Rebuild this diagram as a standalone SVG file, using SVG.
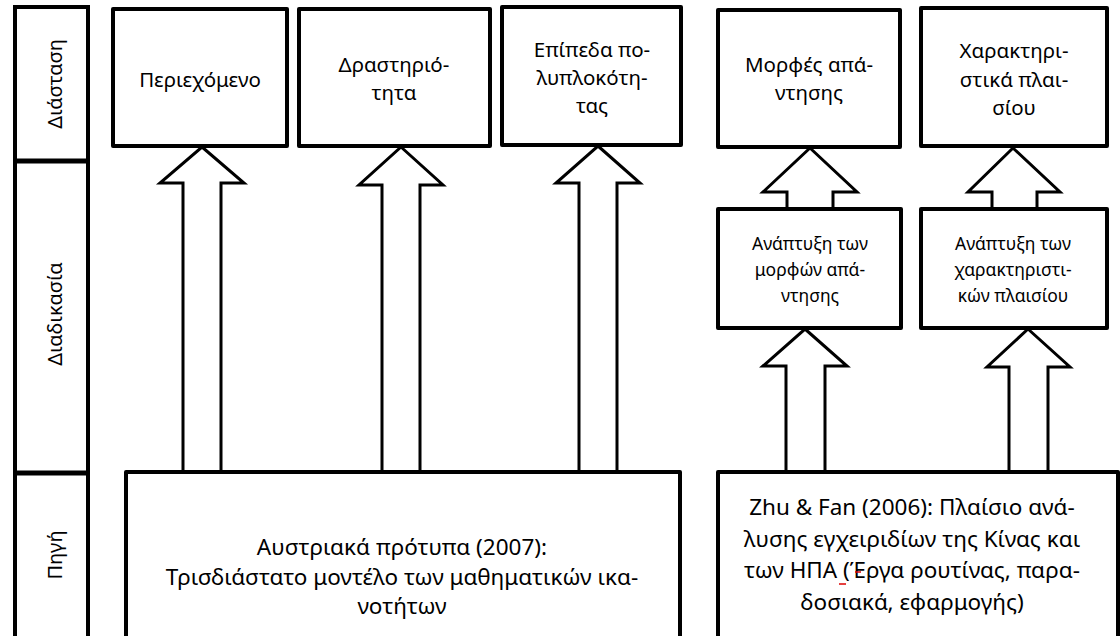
<svg xmlns="http://www.w3.org/2000/svg" width="1120" height="636" viewBox="0 0 1120 636">
<style>
.box{fill:#fff;stroke:#000;stroke-width:4;stroke-linejoin:round}
.arr{fill:#fff;stroke:#000;stroke-width:3;stroke-linejoin:miter}
.t{font-family:"Noto Sans","Open Sans",sans-serif;font-size:20.5px;fill:#000;text-anchor:middle}
.ts{font-family:"Noto Sans","Open Sans",sans-serif;font-size:17.5px;fill:#000;text-anchor:middle}
.tb{font-family:"Noto Sans","Open Sans",sans-serif;font-size:22.5px;fill:#000;text-anchor:middle}
.lab{font-family:"Noto Sans","Open Sans",sans-serif;font-size:20px;fill:#000;text-anchor:middle}
</style>
<rect width="1120" height="636" fill="#fff"/>
<g id="labels">
<rect x="15" y="7" width="73" height="645" fill="#fff" stroke="#000" stroke-width="4"/>
<line x1="15" y1="161" x2="88" y2="161" stroke="#000" stroke-width="5"/>
<line x1="15" y1="473" x2="88" y2="473" stroke="#000" stroke-width="5"/>
<text class="lab" transform="translate(62,84) rotate(-90)">Διάσταση</text>
<text class="lab" transform="translate(62,314) rotate(-90)">Διαδικασία</text>
<text class="lab" transform="translate(62,555) rotate(-90)">Πηγή</text>
</g>
<g id="connectors">
<polygon class="arr" points="202,147 244,183 221,183 221,472 183,472 183,183 160,183"/>
<polygon class="arr" points="401,147 443,185 420,185 420,472 382,472 382,185 359,185"/>
<polygon class="arr" points="598,146 640,183 617,183 617,472 579,472 579,183 556,183"/>
<polygon class="arr" points="810,148 857,192 833,192 833,210 787,210 787,192 763,192"/>
<polygon class="arr" points="1013,148 1060,192 1037,192 1037,210 992,210 992,192 968,192"/>
<polygon class="arr" points="805,329 847,366 825,366 825,472 786,472 786,366 763,366"/>
<polygon class="arr" points="1028,329 1070,367 1048,367 1048,472 1009,472 1009,367 987,367"/>
</g>
<g id="n-periexomeno">
<rect class="box" x="113" y="9" width="174" height="137"/>
<text class="t" x="200" y="87">Περιεχόμενο</text>
</g>
<g id="n-drastiriotita">
<rect class="box" x="299" y="9" width="191" height="137"/>
<text class="t" x="394" y="72">Δραστηριό-</text>
<text class="t" x="394" y="100">τητα</text>
</g>
<g id="n-epipeda">
<rect class="box" x="502" y="7" width="179" height="138"/>
<text class="t" x="592" y="57">Επίπεδα πο-</text>
<text class="t" x="592" y="85">λυπλοκότη-</text>
<text class="t" x="592" y="113">τας</text>
</g>
<g id="n-morfes">
<rect class="box" x="718" y="10" width="182" height="137"/>
<text class="t" x="809" y="72">Μορφές απά-</text>
<text class="t" x="809" y="100">ντησης</text>
</g>
<g id="n-xaraktiristika">
<rect class="box" x="921" y="8" width="186" height="138"/>
<text class="t" x="1014" y="58">Χαρακτηρι-</text>
<text class="t" x="1014" y="87">στικά πλαι-</text>
<text class="t" x="1014" y="115">σίου</text>
</g>
<g id="n-anaptyxi-morfon">
<rect class="box" x="718" y="209" width="183" height="119"/>
<text class="ts" x="810" y="250">Ανάπτυξη των</text>
<text class="ts" x="810" y="276">μορφών απά-</text>
<text class="ts" x="810" y="302">ντησης</text>
</g>
<g id="n-anaptyxi-xarakt">
<rect class="box" x="921" y="209" width="186" height="119"/>
<text class="ts" x="1013" y="250">Ανάπτυξη των</text>
<text class="ts" x="1013" y="276">χαρακτηριστι-</text>
<text class="ts" x="1013" y="302">κών πλαισίου</text>
</g>
<g id="n-austriaka">
<rect class="box" x="126" y="472" width="554" height="180"/>
<text class="tb" x="402" y="555">Αυστριακά πρότυπα (2007):</text>
<text class="tb" x="402" y="585">Τρισδιάστατο μοντέλο των μαθηματικών ικα-</text>
<text class="tb" x="402" y="614">νοτήτων</text>
</g>
<g id="n-zhu-fan">
<rect class="box" x="718" y="472" width="400" height="180"/>
<text class="tb" x="912" y="515">Zhu &amp; Fan (2006): Πλαίσιο ανά-</text>
<text class="tb" x="912" y="547">λυσης εγχειριδίων της Κίνας και</text>
<text class="tb" x="912" y="578">των ΗΠΑ (Έργα ρουτίνας, παρα-</text>
<text class="tb" x="912" y="610">δοσιακά, εφαρμογής)</text>
<line x1="839" y1="584" x2="846" y2="584" stroke="#d00" stroke-width="1.5"/>
<line x1="855" y1="572" x2="861" y2="572" stroke="#d00" stroke-width="1.5"/>
</g>
</svg>
